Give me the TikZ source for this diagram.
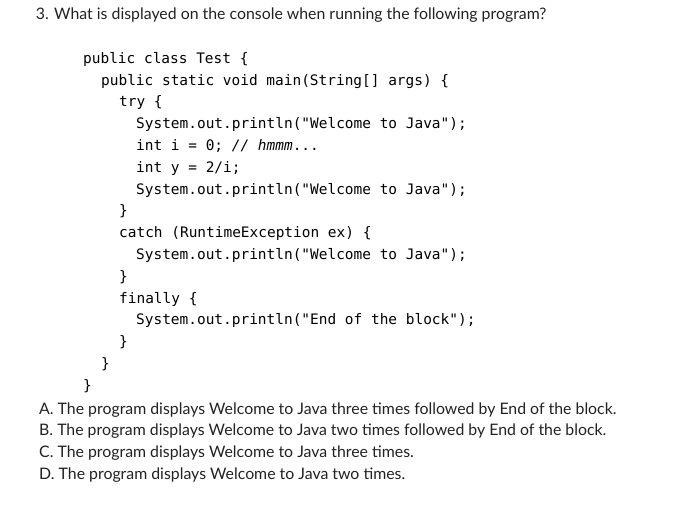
\documentclass[tikz,border=0pt]{standalone}
\usepackage{fontspec}
\setmainfont{Lato}
\setmonofont{DejaVu Sans Mono}
\definecolor{qtext}{RGB}{34,34,34}
\tikzset{
  question/.style={anchor=base west, inner sep=0pt, text=qtext, font=\fontsize{15.85}{18}\selectfont},
  codeline/.style={anchor=base west, inner sep=0pt, text=black, font=\ttfamily\fontsize{14.45}{17}\selectfont},
}
\begin{document}
\begin{tikzpicture}[x=1pt, y=-1pt]
  \useasboundingbox[fill=white] (0,0) rectangle (682,521);
  % question
  \node[question] (q) at (35.7,19.5) {3. What is displayed on the console when running the following program?};
  % program
  \node[codeline] (c1) at (83,63.3) {public class Test \{};
  \node[codeline] (c2) at (101,85.1) {public static void main(String[] args) \{};
  \node[codeline] (c3) at (119,106.9) {try \{};
  \node[codeline] (c4) at (136,128.7) {System.out.println("Welcome to Java");};
  \node[codeline] (c5) at (136,150.5) {int i = 0; {\itshape// hmmm}...};
  \node[codeline] (c6) at (136,172.3) {int y = 2/i;};
  \node[codeline] (c7) at (136,194.1) {System.out.println("Welcome to Java");};
  \node[codeline] (c8) at (119,215.9) {\}};
  \node[codeline] (c9) at (119,237.7) {catch (RuntimeException ex) \{};
  \node[codeline] (c10) at (136,259.5) {System.out.println("Welcome to Java");};
  \node[codeline] (c11) at (119,281.3) {\}};
  \node[codeline] (c12) at (119,303.1) {finally \{};
  \node[codeline] (c13) at (136,324.9) {System.out.println("End of the block");};
  \node[codeline] (c14) at (119,346.7) {\}};
  \node[codeline] (c15) at (101,368.5) {\}};
  \node[codeline] (c16) at (83,390.3) {\}};
  % answers
  \node[question] (a) at (39,414) {A. The program displays Welcome to Java three times followed by End of the block.};
  \node[question] (b) at (39,435.7) {B. The program displays Welcome to Java two times followed by End of the block.};
  \node[question] (c) at (39,457.3) {C. The program displays Welcome to Java three times.};
  \node[question] (d) at (39,479.3) {D. The program displays Welcome to Java two times.};
\end{tikzpicture}
\end{document}
